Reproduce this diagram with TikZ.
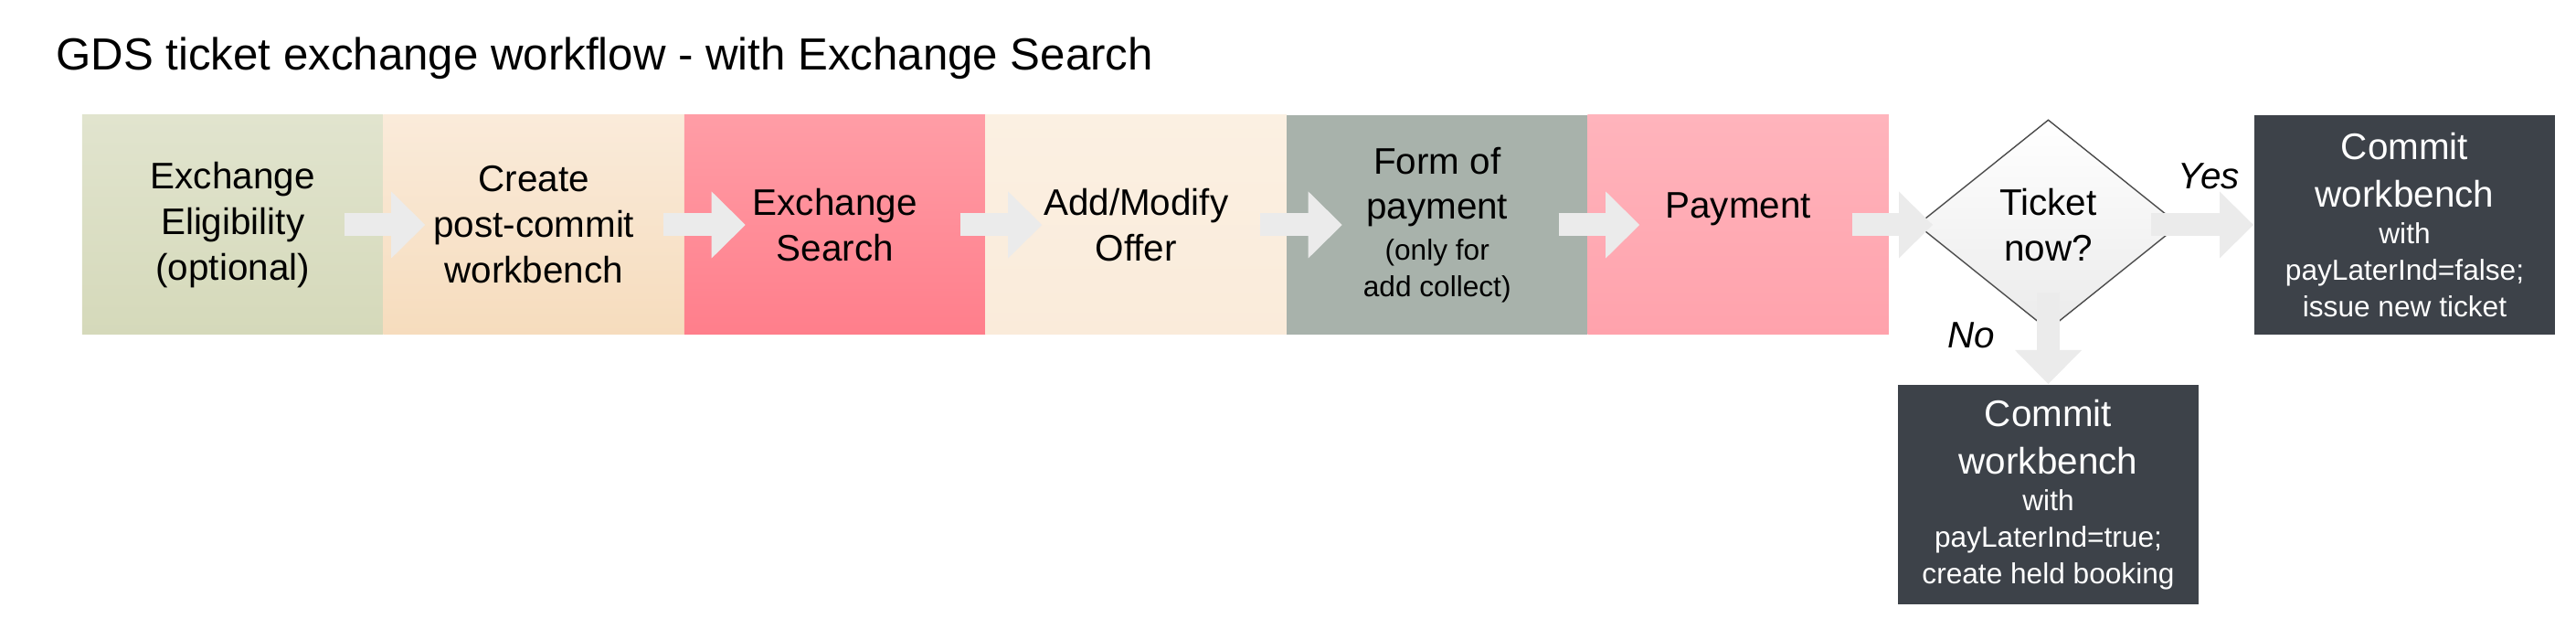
\documentclass[tikz,border=0pt]{standalone}
\usepackage{fontspec}
\setmainfont{Liberation Sans}
\usepackage{tikz}
\usetikzlibrary{arrows.meta,shapes.geometric,positioning}

\definecolor{eligtop}{HTML}{E1E4CE}
\definecolor{eligbot}{HTML}{D5D9BA}
\definecolor{createtop}{HTML}{FAEBDA}
\definecolor{createbot}{HTML}{F6DCBD}
\definecolor{searchtop}{HTML}{FF9DA6}
\definecolor{searchbot}{HTML}{FF7E8B}
\definecolor{offertop}{HTML}{FBF0E2}
\definecolor{offerbot}{HTML}{FAEBDA}
\definecolor{formgray}{HTML}{A8B2AB}
\definecolor{paytop}{HTML}{FFB4BC}
\definecolor{paybot}{HTML}{FFA2AC}
\definecolor{commitgray}{HTML}{3D4249}
\definecolor{arrowgray}{HTML}{EBEBEB}

\newcommand{\boxfont}{\fontsize{11.5}{14.2}\selectfont}
\newcommand{\tightfont}{\fontsize{11.5}{11.4}\selectfont}
\newcommand{\smalltext}{\fontsize{9}{11.4}\selectfont}

\begin{document}
\begin{tikzpicture}[node distance=3.295cm,
                    >={Triangle[width=0.73cm,length=0.37cm,line width=0pt]},
                    flow/.style={->,draw=arrowgray,line width=0.25cm}]
  \tikzstyle{stepbox}=[rectangle,minimum width=3.295cm,minimum height=2.4cm,inner sep=0pt,align=center,font=\boxfont]
  \tikzstyle{commitbox}=[stepbox,fill=commitgray,text=white,font=\tightfont]
  \tikzstyle{decision}=[diamond,draw=black!70,line width=0.4pt,top color=white,bottom color=black!8,
                        minimum width=2.87cm,minimum height=2.3cm,aspect=1.25,inner sep=0pt,align=center,font=\boxfont]
  \tikzstyle{answer}=[font=\boxfont\itshape,inner sep=0pt]

  \useasboundingbox (0,0) rectangle (28.19,-6.88);

  \node[anchor=base west,font=\fontsize{14}{17}\selectfont] (title) at (0.49,-0.77)
    {GDS ticket exchange workflow - with Exchange Search};

  \node[stepbox,top color=eligtop,bottom color=eligbot] (elig) at (2.547,-2.46) {Exchange\\Eligibility\\(optional)};
  \node[stepbox,top color=createtop,bottom color=createbot] (create) [right of=elig] {Create\\post-commit\\workbench};
  \node[stepbox,top color=searchtop,bottom color=searchbot] (search) [right of=create] {Exchange\\Search};
  \node[stepbox,top color=offertop,bottom color=offerbot] (offer) [right of=search] {Add/Modify\\Offer};
  \node[stepbox,fill=formgray,font=\tightfont] (form) [right of=offer]
    {Form of\\[2.5pt]payment\\[1.4pt]\smalltext (only for\\\smalltext add collect)};
  \node[stepbox,top color=paytop,bottom color=paybot,text depth=0.43cm] (payment) [right of=form] {Payment};

  \node[decision] (ticket) [right of=payment,node distance=3.393cm] {Ticket\\now?};
  \node[commitbox] (issue) [right of=ticket,node distance=3.9cm]
    {Commit\\[3.4pt]workbench\\\smalltext with\\\smalltext payLaterInd=false;\\\smalltext issue new ticket};
  \node[commitbox] (held) [below of=ticket,node distance=2.95cm]
    {Commit\\[3.4pt]workbench\\\smalltext with\\\smalltext payLaterInd=true;\\\smalltext create held booking};

  \foreach \from/\to/\s/\e in {elig/create/1.22/1.19,create/search/1.42/0.98,search/offer/1.37/1.03,
                               offer/form/1.36/1.04,form/payment/1.33/1.08,payment/ticket/1.245/1.265}
    \draw[flow,shorten <=\s cm,shorten >=\e cm] (\from.center) -- (\to.center);

  \draw[flow,shorten <=1.125cm,shorten >=1.655cm] (ticket.center) -- node[answer,pos=0.45,above=0.27cm] {Yes} (issue.center);
  \draw[flow,shorten <=0.74cm,shorten >=1.21cm] (ticket.center) -- node[answer,pos=0.41,left=0.46cm] {No} (held.center);
\end{tikzpicture}
\end{document}
